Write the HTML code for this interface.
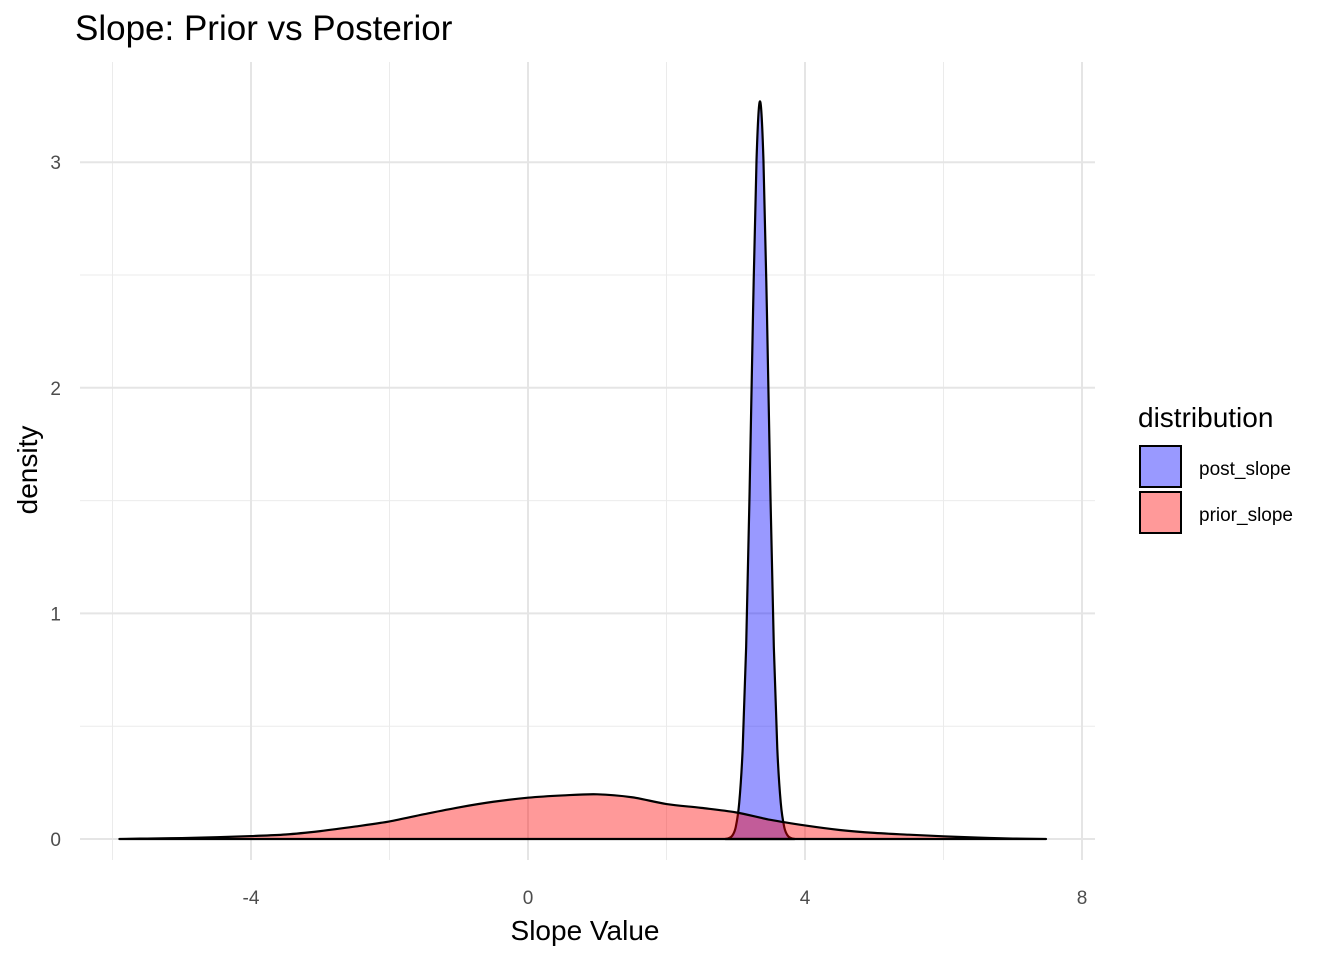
<!DOCTYPE html>
<html><head><meta charset="utf-8"><style>
html,body{margin:0;padding:0;background:#fff;}
svg{display:block;font-family:"Liberation Sans",Arial,sans-serif;}
</style></head><body>
<svg id="chart" width="1344" height="960" viewBox="0 0 1344 960">
  <rect x="0" y="0" width="1344" height="960" fill="#fff"/>
  <g id="grid"></g>
  <g id="marks"></g>
  <g id="axes"></g>
  <text x="75" y="40" font-size="35" fill="#000">Slope: Prior vs Posterior</text>
  <text x="585" y="940" font-size="28" text-anchor="middle" fill="#000">Slope Value</text>
  <text transform="translate(37,470) rotate(-90)" font-size="28" text-anchor="middle" fill="#000">density</text>
  <g>
    <text x="1138" y="427" font-size="28" fill="#000">distribution</text>
    <g>
      <rect x="1140" y="446" width="41" height="41" fill="#9999ff" stroke="#000" stroke-width="2"/>
      <text x="1199" y="475" font-size="19" fill="#000">post_slope</text>
    </g>
    <g>
      <rect x="1140" y="492" width="41" height="41" fill="#ff9999" stroke="#000" stroke-width="2"/>
      <text x="1199" y="521" font-size="19" fill="#000">prior_slope</text>
    </g>
  </g>
</svg>
<script>
const xTicks = [-4, 0, 4, 8];
const xTickLabels = ["-4", "0", "4", "8"];
const xMinor = [-6, -2, 2, 6];
const yTicks = [0, 1, 2, 3];
const yTickLabels = ["0", "1", "2", "3"];
const yMinor = [0.5, 1.5, 2.5];

const priorX = [-5.9,-5.5,-5,-4.5,-4,-3.5,-3,-2.5,-2,-1.5,-1,-0.5,0,0.5,1,1.5,2,2.5,3,3.5,4,4.5,5,5.5,6,6.5,7,7.48];
const priorY = [0,0.002,0.004,0.008,0.013,0.02,0.035,0.055,0.078,0.11,0.14,0.165,0.183,0.193,0.198,0.185,0.155,0.138,0.118,0.085,0.06,0.04,0.027,0.019,0.012,0.006,0.002,0];
const postX = [2.85,2.9,2.95,3.0,3.05,3.1,3.15,3.2,3.25,3.3,3.35,3.4,3.45,3.5,3.55,3.6,3.65,3.7,3.75,3.8,3.85];
const postY = [0,0.004,0.015,0.053,0.16,0.40,0.85,1.54,2.34,3.01,3.27,3.01,2.34,1.54,0.85,0.40,0.16,0.053,0.015,0.004,0];

const NS = "http://www.w3.org/2000/svg";
const X0 = 528, XS = 69.25, Y0 = 839, YS = 225.6;
const PL = 80, PR = 1095, PT = 62, PB = 860;
function xs(v){ return X0 + XS * v; }
function ys(v){ return Y0 - YS * v; }
function mk(tag, attrs, parent){
  const e = document.createElementNS(NS, tag);
  for (const k in attrs) e.setAttribute(k, attrs[k]);
  parent.appendChild(e);
  return e;
}
const grid = document.getElementById('grid');
const axes = document.getElementById('axes');
const marks = document.getElementById('marks');

xMinor.forEach(v => {
  const l = mk('line', {x1: xs(v), x2: xs(v), y1: PT, y2: PB, stroke: '#ebebeb', 'stroke-width': 1}, grid);
  
  
});
yMinor.forEach(v => {
  const l = mk('line', {x1: PL, x2: PR, y1: ys(v), y2: ys(v), stroke: '#ebebeb', 'stroke-width': 1}, grid);
  
  
});
xTicks.forEach((v, i) => {
  const l = mk('line', {x1: xs(v), x2: xs(v), y1: PT, y2: PB, stroke: '#e5e5e5', 'stroke-width': 2}, grid);
  
  
  const t = mk('text', {x: xs(v), y: 904, 'font-size': 19, fill: '#4d4d4d', 'text-anchor': 'middle'}, axes);
  t.textContent = xTickLabels[i];
  
  
});
yTicks.forEach((v, i) => {
  const l = mk('line', {x1: PL, x2: PR, y1: ys(v), y2: ys(v), stroke: '#e5e5e5', 'stroke-width': 2}, grid);
  
  
  const t = mk('text', {x: 61, y: ys(v) + 7, 'font-size': 19, fill: '#4d4d4d', 'text-anchor': 'end'}, axes);
  t.textContent = yTickLabels[i];
  
  
});

function smoothPath(X, Y){
  const p = X.map((x, i) => [xs(x), ys(Y[i])]);
  let d = 'M' + p[0][0] + ',' + p[0][1];
  for (let i = 0; i < p.length - 1; i++){
    const p0 = p[Math.max(0, i-1)], p1 = p[i], p2 = p[i+1], p3 = p[Math.min(p.length-1, i+2)];
    let c1y = p1[1] + (p2[1]-p0[1])/6, c2y = p2[1] - (p3[1]-p1[1])/6;
    c1y = Math.min(c1y, Y0); c2y = Math.min(c2y, Y0);
    d += ' C' + (p1[0] + (p2[0]-p0[0])/6) + ',' + c1y + ' ' + (p2[0] - (p3[0]-p1[0])/6) + ',' + c2y + ' ' + p2[0] + ',' + p2[1];
  }
  return d;
}
function drawDensity(X, Y, fill, name){
  const top = smoothPath(X, Y);
  const area = mk('path', {d: top + ' L' + xs(X[X.length-1]) + ',' + Y0 + ' L' + xs(X[0]) + ',' + Y0 + ' Z', fill: fill, 'fill-opacity': 0.4, stroke: 'none'}, marks);
  
  
  const line = mk('path', {d: top + ' L' + xs(X[0]) + ',' + Y0 + ' Z', fill: 'none', stroke: '#000', 'stroke-width': 2.2, 'stroke-linejoin': 'round'}, marks);
  
  
}
drawDensity(postX, postY, '#0000ff', 'post-slope');
drawDensity(priorX, priorY, '#ff0000', 'prior-slope');
</script>
</body></html>
